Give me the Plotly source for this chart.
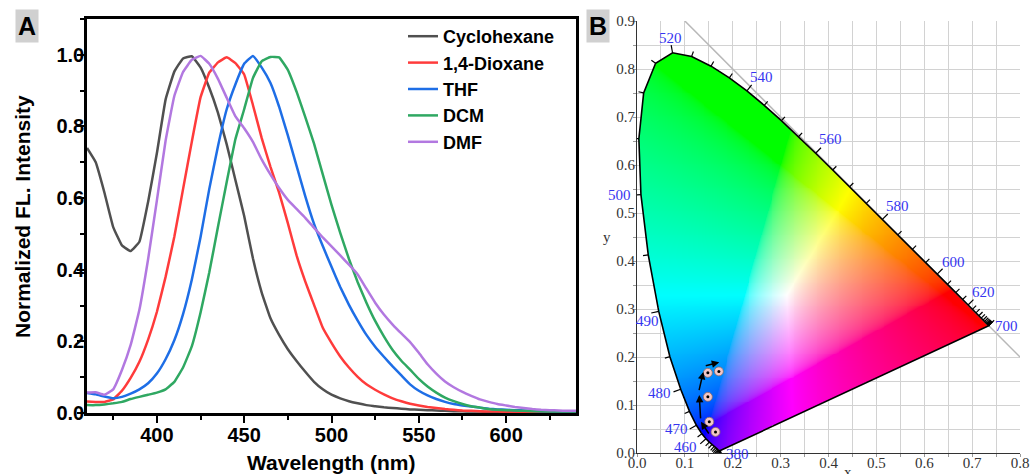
import base64
import struct
import zlib

import numpy as np
import plotly.graph_objects as go

# ---------------- Panel A data (normalized emission spectra) ----------------
wavelength = list(range(360, 645, 5))

cyclohexane = [0.740, 0.700, 0.615, 0.519, 0.468, 0.452, 0.478, 0.590, 0.725, 0.875,
               0.953, 0.990, 0.996, 0.965, 0.908, 0.838, 0.750, 0.650, 0.550, 0.432,
               0.337, 0.265, 0.218, 0.178, 0.145, 0.115, 0.087, 0.066, 0.051, 0.041,
               0.033, 0.027, 0.022, 0.019, 0.016, 0.014, 0.012, 0.010, 0.009, 0.008,
               0.007, 0.006, 0.005, 0.005, 0.004, 0.004, 0.003, 0.003, 0.003, 0.003,
               0.002, 0.002, 0.002, 0.002, 0.002, 0.002, 0.002]

dioxane = [0.032, 0.031, 0.031, 0.038, 0.062, 0.098, 0.143, 0.205, 0.282, 0.380,
           0.492, 0.625, 0.757, 0.881, 0.950, 0.979, 0.993, 0.977, 0.945, 0.860,
           0.768, 0.688, 0.615, 0.530, 0.440, 0.367, 0.302, 0.238, 0.196, 0.158,
           0.127, 0.101, 0.080, 0.065, 0.052, 0.041, 0.033, 0.026, 0.021, 0.017,
           0.014, 0.011, 0.009, 0.007, 0.006, 0.005, 0.004, 0.004, 0.003, 0.003,
           0.003, 0.003, 0.003, 0.003, 0.003, 0.003, 0.003]

thf = [0.056, 0.052, 0.046, 0.041, 0.045, 0.054, 0.066, 0.083, 0.110, 0.150,
       0.203, 0.276, 0.372, 0.491, 0.625, 0.745, 0.848, 0.918, 0.975, 0.997,
       0.965, 0.922, 0.855, 0.775, 0.690, 0.605, 0.528, 0.466, 0.408, 0.352,
       0.302, 0.258, 0.218, 0.185, 0.157, 0.130, 0.105, 0.080, 0.062, 0.049,
       0.039, 0.031, 0.025, 0.021, 0.018, 0.015, 0.012, 0.010, 0.009, 0.008,
       0.007, 0.006, 0.005, 0.005, 0.004, 0.004, 0.004]

dcm = [0.022, 0.022, 0.024, 0.027, 0.031, 0.039, 0.045, 0.051, 0.057, 0.066,
       0.087, 0.127, 0.186, 0.280, 0.392, 0.520, 0.645, 0.765, 0.848, 0.935,
       0.982, 0.994, 0.993, 0.958, 0.897, 0.826, 0.752, 0.666, 0.581, 0.503,
       0.430, 0.365, 0.308, 0.257, 0.214, 0.176, 0.146, 0.121, 0.095, 0.074,
       0.057, 0.043, 0.033, 0.025, 0.019, 0.015, 0.011, 0.009, 0.008, 0.007,
       0.006, 0.005, 0.005, 0.004, 0.004, 0.004, 0.004]

dmf = [0.057, 0.058, 0.051, 0.066, 0.120, 0.190, 0.288, 0.430, 0.593, 0.760,
       0.885, 0.952, 0.986, 0.997, 0.975, 0.933, 0.880, 0.828, 0.795, 0.757,
       0.708, 0.666, 0.628, 0.595, 0.570, 0.545, 0.517, 0.490, 0.465, 0.440,
       0.414, 0.387, 0.347, 0.308, 0.275, 0.247, 0.222, 0.198, 0.168, 0.136,
       0.110, 0.088, 0.072, 0.059, 0.048, 0.038, 0.031, 0.025, 0.021, 0.017,
       0.014, 0.011, 0.009, 0.008, 0.007, 0.006, 0.006]

solvents = ["Cyclohexane", "1,4-Dioxane", "THF", "DCM", "DMF"]
series = [cyclohexane, dioxane, thf, dcm, dmf]
colors = ["#505050", "#ff3b3b", "#1e6ee6", "#2fa862", "#b278e0"]

# ---------------- Panel B data (CIE 1931) ----------------
locus_nm = list(range(380, 705, 5))
locus_x = [0.1741, 0.1740, 0.1738, 0.1736, 0.1733, 0.1730, 0.1726, 0.1721, 0.1714, 0.1703,
           0.1689, 0.1669, 0.1644, 0.1611, 0.1566, 0.1510, 0.1440, 0.1355, 0.1241, 0.1096,
           0.0913, 0.0687, 0.0454, 0.0235, 0.0082, 0.0039, 0.0139, 0.0389, 0.0743, 0.1142,
           0.1547, 0.1929, 0.2296, 0.2658, 0.3016, 0.3373, 0.3731, 0.4087, 0.4441, 0.4788,
           0.5125, 0.5448, 0.5752, 0.6029, 0.6270, 0.6482, 0.6658, 0.6801, 0.6915, 0.7006,
           0.7079, 0.7140, 0.7190, 0.7230, 0.7260, 0.7283, 0.7300, 0.7311, 0.7320, 0.7327,
           0.7334, 0.7340, 0.7344, 0.7346, 0.7347]
locus_y = [0.0050, 0.0050, 0.0049, 0.0049, 0.0048, 0.0048, 0.0048, 0.0048, 0.0051, 0.0058,
           0.0069, 0.0086, 0.0109, 0.0138, 0.0177, 0.0227, 0.0297, 0.0399, 0.0578, 0.0868,
           0.1327, 0.2007, 0.2950, 0.4127, 0.5384, 0.6548, 0.7502, 0.8120, 0.8338, 0.8262,
           0.8059, 0.7816, 0.7543, 0.7243, 0.6923, 0.6589, 0.6245, 0.5896, 0.5547, 0.5202,
           0.4866, 0.4544, 0.4242, 0.3965, 0.3725, 0.3514, 0.3340, 0.3197, 0.3083, 0.2993,
           0.2920, 0.2859, 0.2809, 0.2770, 0.2740, 0.2717, 0.2700, 0.2689, 0.2680, 0.2673,
           0.2666, 0.2660, 0.2656, 0.2654, 0.2653]

# labelled wavelengths and label offsets (px)
label_nm = [380, 460, 470, 480, 490, 500, 520, 540, 560, 580, 600, 620, 700]
label_shift = [(17, 3), (-20, 8), (-20, 4), (-21, 4), (-11, 10), (-21, 0), (-2, -15),
               (15, -14), (15, -14), (15, -13), (16, -12), (15, -13), (18, 0)]

# CIE coordinates of the emissions
cie_x = [0.164, 0.151, 0.148, 0.148, 0.171]
cie_y = [0.044, 0.065, 0.117, 0.167, 0.170]

# arrows (tail -> head)
arrow_tail_x = [0.152, 0.133, 0.129, 0.1405]
arrow_tail_y = [0.0375, 0.069, 0.128, 0.181]
arrow_head_x = [0.1336, 0.130, 0.1385, 0.1718]
arrow_head_y = [0.065, 0.121, 0.169, 0.189]

# x + y = 1 reference line
diag_x = [0.1, 0.8]
diag_y = [0.9, 0.2]

W, H = 1032, 474


def px_x(p):
    return p / W


def px_y(p):
    return 1 - p / H


# ---------------- chromaticity fill image ----------------
def inside_poly(px, py, vx, vy):
    ins = np.zeros(px.shape, dtype=bool)
    n = len(vx)
    j = n - 1
    for i in range(n):
        xi, yi, xj, yj = vx[i], vy[i], vx[j], vy[j]
        den = (yj - yi) if yj != yi else 1e-12
        cond = ((yi > py) != (yj > py)) & (px < (xj - xi) * (py - yi) / den + xi)
        ins ^= cond
        j = i
    return ins


def png_uri(rgba):
    h, w, _ = rgba.shape
    raw = b"".join(b"\x00" + rgba[i].tobytes() for i in range(h))

    def chunk(t, d):
        return struct.pack(">I", len(d)) + t + d + struct.pack(">I", zlib.crc32(t + d) & 0xFFFFFFFF)

    png = (b"\x89PNG\r\n\x1a\n"
           + chunk(b"IHDR", struct.pack(">IIBBBBB", w, h, 8, 6, 0, 0, 0))
           + chunk(b"IDAT", zlib.compress(raw, 9))
           + chunk(b"IEND", b""))
    return "data:image/png;base64," + base64.b64encode(png).decode()


res = 0.002
gx = np.arange(0.0, 0.752, res)
gy = np.arange(0.0, 0.842, res)
GX, GY = np.meshgrid(gx, gy)
yy = np.maximum(GY, 1e-4)
Xc = GX / yy
Yc = np.ones_like(GX)
Zc = (1 - GX - GY) / yy
r = 3.2406 * Xc - 1.5372 * Yc - 0.4986 * Zc
g = -0.9689 * Xc + 1.8758 * Yc + 0.0415 * Zc
b = 0.0557 * Xc - 0.2040 * Yc + 1.0570 * Zc
rgb = np.clip(np.stack([r, g, b], axis=-1), 0, None)
rgb = rgb / (rgb.max(axis=-1, keepdims=True) + 1e-12)
rgb = np.where(rgb <= 0.0031308, 12.92 * rgb, 1.055 * np.power(rgb, 1 / 2.4) - 0.055)
mask = inside_poly(GX, GY, np.array(locus_x), np.array(locus_y))
rgba = np.zeros(GX.shape + (4,), dtype=np.uint8)
rgba[..., :3] = np.clip(rgb * 255, 0, 255).astype(np.uint8)
rgba[..., 3] = np.where(mask, 255, 0).astype(np.uint8)
img_uri = png_uri(rgba.copy())

fig = go.Figure()

# ---------------- Panel A ----------------
for name, ys, c in zip(solvents, series, colors):
    fig.add_trace(go.Scatter(x=wavelength, y=ys, mode="lines", name=name,
                             line=dict(color=c, width=2.5, shape="spline", smoothing=0.3),
                             xaxis="x", yaxis="y"))

# ---------------- Panel B ----------------
fig.add_trace(go.Image(source=img_uri, x0=float(gx[0]), y0=float(gy[0]), dx=res, dy=res,
                       xaxis="x2", yaxis="y2", hoverinfo="skip"))

fig.add_trace(go.Scatter(x=diag_x, y=diag_y, mode="lines", line=dict(color="#b8b8b8", width=1.5),
                         showlegend=False, hoverinfo="skip", xaxis="x2", yaxis="y2"))

fig.add_trace(go.Scatter(x=locus_x + [locus_x[0]], y=locus_y + [locus_y[0]], mode="lines",
                         line=dict(color="black", width=1.6), showlegend=False, hoverinfo="skip",
                         xaxis="x2", yaxis="y2"))

lx = np.array(locus_x)
ly = np.array(locus_y)
tkx, tky = [], []
for i, nm in enumerate(locus_nm):
    i0 = max(i - 1, 0)
    i1 = min(i + 1, len(locus_nm) - 1)
    tx, ty = lx[i1] - lx[i0], ly[i1] - ly[i0]
    nrm = np.hypot(tx, ty) or 1.0
    nx, ny = -ty / nrm, tx / nrm
    L = 0.016 if nm in label_nm else 0.011
    tkx += [lx[i], lx[i] + L * nx, None]
    tky += [ly[i], ly[i] + L * ny, None]
fig.add_trace(go.Scatter(x=tkx, y=tky, mode="lines", line=dict(color="black", width=1.2),
                         showlegend=False, hoverinfo="skip", xaxis="x2", yaxis="y2"))

fig.add_trace(go.Scatter(x=cie_x, y=cie_y, mode="markers", showlegend=False, hoverinfo="skip",
                         marker=dict(size=9, color="#f3c6c6", line=dict(color="#8a6a6a", width=0.8)),
                         xaxis="x2", yaxis="y2"))
fig.add_trace(go.Scatter(x=cie_x, y=cie_y, mode="markers", showlegend=False, hoverinfo="skip",
                         marker=dict(size=3, color="black"), xaxis="x2", yaxis="y2"))

annotations = []
for nm, (sx, sy) in zip(label_nm, label_shift):
    k = locus_nm.index(nm)
    annotations.append(dict(x=locus_x[k], y=locus_y[k], xref="x2", yref="y2", text=str(nm),
                            showarrow=False, xshift=sx, yshift=-sy, xanchor="center", yanchor="middle",
                            font=dict(family="Liberation Serif, Times New Roman", size=15, color="#3535f0")))

for tx0, ty0, hx, hy in zip(arrow_tail_x, arrow_tail_y, arrow_head_x, arrow_head_y):
    annotations.append(dict(x=hx, y=hy, ax=tx0, ay=ty0, xref="x2", yref="y2", axref="x2", ayref="y2",
                            showarrow=True, arrowhead=2, arrowsize=1, arrowwidth=1.5,
                            arrowcolor="black", text=""))

bold = dict(family="Liberation Sans, Arial", color="black", weight="bold")
annotations += [
    dict(x=px_x(22), y=px_y(217), xref="paper", yref="paper", text="Normalized FL. Intensity",
         textangle=-90, showarrow=False, xanchor="center", yanchor="middle", font=dict(size=21, **bold)),
    dict(x=px_x(331), y=px_y(462), xref="paper", yref="paper", text="Wavelength (nm)",
         showarrow=False, xanchor="center", yanchor="middle", font=dict(size=21, **bold)),
    dict(x=px_x(27), y=px_y(26), xref="paper", yref="paper", text="A", showarrow=False,
         xanchor="center", yanchor="middle",
         bgcolor="#d0d0d0", borderpad=2, font=dict(size=25, **bold)),
    dict(x=px_x(598), y=px_y(26), xref="paper", yref="paper", text="B", showarrow=False,
         xanchor="center", yanchor="middle",
         bgcolor="#d0d0d0", borderpad=2, font=dict(size=25, **bold)),
    dict(x=px_x(848), y=px_y(462), xref="paper", yref="paper", text="x", showarrow=False,
         xanchor="center", yanchor="top", font=dict(family="Liberation Serif", size=15, color="#333")),
    dict(x=px_x(607), y=px_y(237), xref="paper", yref="paper", text="y", showarrow=False,
         xanchor="center", yanchor="middle", font=dict(family="Liberation Serif", size=15, color="#333")),
]

tickA = dict(family="Liberation Sans, Arial", size=20, color="black", weight="bold")
tickB = dict(family="Liberation Serif, Times New Roman", size=15, color="#333")
gridc = "#d2d2d2"

fig.update_layout(
    width=W, height=H,
    margin=dict(l=0, r=0, t=0, b=0, pad=0, autoexpand=False),
    paper_bgcolor="white", plot_bgcolor="white",
    showlegend=True,
    legend=dict(x=px_x(403), y=px_y(18), xanchor="left", yanchor="top", bgcolor="rgba(0,0,0,0)",
                font=dict(family="Liberation Sans, Arial", size=18, color="black", weight="bold"),
                borderwidth=0, tracegroupgap=0),
    annotations=annotations,
    xaxis=dict(domain=[px_x(87), px_x(576)], range=[360, 640], dtick=50, tick0=400,
               ticks="outside", ticklen=7, tickwidth=2, tickcolor="black",
               minor=dict(dtick=25, ticks="outside", ticklen=4, tickwidth=2, tickcolor="black"),
               showline=True, linewidth=2.5, linecolor="black", mirror=True,
               showgrid=False, zeroline=False, tickfont=tickA, ticklabelstandoff=-5,
               automargin=False, anchor="y"),
    yaxis=dict(domain=[px_y(413), px_y(19)], range=[0, 1.1], dtick=0.2, tickformat=".1f",
               ticks="outside", ticklen=7, tickwidth=2, tickcolor="black",
               minor=dict(dtick=0.1, ticks="outside", ticklen=4, tickwidth=2, tickcolor="black"),
               showline=True, linewidth=2.5, linecolor="black", mirror=True,
               showgrid=False, zeroline=False, tickfont=tickA, ticklabelstandoff=-11,
               automargin=False, anchor="x"),
    xaxis2=dict(domain=[px_x(637), px_x(1020)], range=[0, 0.8], dtick=0.1, tick0=0, tickformat=".1f",
                ticks="outside", ticklen=3, tickcolor="#999", showgrid=True, gridcolor=gridc, gridwidth=1,
                minor=dict(dtick=0.05, showgrid=True, gridcolor=gridc, gridwidth=1,
                           ticks="outside", ticklen=3, tickcolor="#999"),
                showline=True, linecolor="#333", linewidth=1.2, zeroline=False,
                tickfont=tickB, ticklabelstandoff=-7, automargin=False, anchor="y2"),
    yaxis2=dict(domain=[px_y(453), px_y(21)], range=[0, 0.9], dtick=0.1, tick0=0, tickformat=".1f",
                ticks="outside", ticklen=3, tickcolor="#999", showgrid=True, gridcolor=gridc, gridwidth=1,
                minor=dict(dtick=0.05, showgrid=True, gridcolor=gridc, gridwidth=1,
                           ticks="outside", ticklen=3, tickcolor="#999"),
                showline=True, linecolor="#333", linewidth=1.2, zeroline=False,
                tickfont=tickB, ticklabelstandoff=-5, automargin=False, scaleanchor=False,
                anchor="x2"),
)

fig.write_html("out.html", config={"displayModeBar": False},
               post_script="document.body.style.margin='0';document.body.style.overflow='hidden';")
